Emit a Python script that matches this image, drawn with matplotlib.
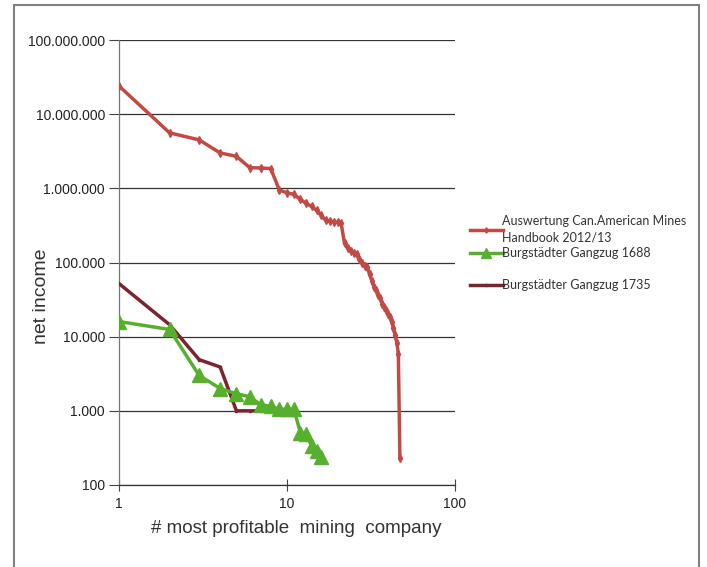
import matplotlib
matplotlib.use("Agg")
import matplotlib.pyplot as plt
from matplotlib.patches import Rectangle

# ---- data ----
rank_mines = list(range(1, 48))
income_mines = [24000000, 5600000, 4500000, 3000000, 2700000, 1900000, 1880000, 1850000,
                950000, 870000, 830000, 710000, 627000, 571000, 505000, 432000, 370000,
                358000, 355000, 348000, 337000, 181000, 155000, 145000, 136000, 132000,
                113000, 100000, 91000, 88000, 69000, 57000, 47000, 42000, 37000, 33000,
                28000, 25000, 23000, 20500, 18600, 16000, 13200, 10600, 8300, 5900, 230]

rank_1688 = list(range(1, 17))
income_1688 = [16000, 12500, 3000, 2000, 1700, 1550, 1200, 1150, 1050, 1050, 1050,
               510, 480, 340, 290, 240]

rank_1735 = list(range(1, 9))
income_1735 = [52000, 14500, 4900, 3900, 1000, 1000, 1000, 1000]

labels = ["Auswertung Can.American Mines\nHandbook 2012/13",
          "Burgstädter Gangzug 1688",
          "Burgstädter Gangzug 1735"]
y_ticks = [100, 1000, 10000, 100000, 1000000, 10000000, 100000000]
y_ticklabels = ["100", "1.000", "10.000", "100.000", "1.000.000", "10.000.000", "100.000.000"]
x_ticks = [1, 10, 100]
x_ticklabels = ["1", "10", "100"]

c_red = "#c24a45"
c_green = "#56b02e"
c_maroon = "#7a2430"

W, H = 707, 567
fig = plt.figure(figsize=(W / 100, H / 100), dpi=100)
ax = fig.add_axes([119 / W, 1 - 485 / H, (455 - 119) / W, (485 - 40) / H])

l1, = ax.plot(rank_mines, income_mines, color=c_red, lw=2.5, marker="d", ms=4,
              mec=c_red, mfc=c_red, zorder=3)
l3, = ax.plot(rank_1735, income_1735, color=c_maroon, lw=2.5, marker="s", ms=2,
              zorder=3)
l2, = ax.plot(rank_1688, income_1688, color=c_green, lw=2.5, marker="^", ms=9.5,
              mec=c_green, mfc=c_green, zorder=4)

ax.set_xscale("log")
ax.set_yscale("log")
ax.set_xlim(1, 100)
ax.set_ylim(100, 100000000)
ax.set_yticks(y_ticks)
ax.set_yticklabels(y_ticklabels, fontfamily="Liberation Sans", fontsize=10, color="#222222")
ax.set_xticks(x_ticks)
ax.set_xticklabels(x_ticklabels, fontfamily="Liberation Sans", fontsize=10, color="#222222")
ax.minorticks_off()
ax.tick_params(axis="y", direction="out", length=7, width=0.8, color="#444444", pad=3)
ax.tick_params(axis="x", direction="inout", length=8, width=0.8, color="#444444", pad=5)

ax.grid(True, axis="y", color="#333333", lw=0.9)
ax.set_axisbelow(True)
for s in ("top", "right"):
    ax.spines[s].set_visible(False)
ax.spines["left"].set_color("#777777")
ax.spines["left"].set_linewidth(0.9)
ax.spines["bottom"].set_color("#333333")
ax.spines["bottom"].set_linewidth(0.9)

ax.set_ylabel("net income", fontfamily="Liberation Sans", fontsize=14, color="#333333")
ax.yaxis.set_label_coords(-0.205, 0.425)
ax.set_xlabel("# most profitable  mining  company", fontfamily="Liberation Sans",
              fontsize=13.5, color="#333333")
ax.xaxis.set_label_coords(0.527, -0.078)

# legends (one per entry, placed like the reference)
leg_font = dict(family="Lato", size=9)
positions = [(470 / W, 1 - 229 / H), (470 / W, 1 - 253 / H), (470 / W, 1 - 285 / H)]
for handle, lab, pos in zip([l1, l2, l3], labels, positions):
    lg = fig.legend([handle], [lab], loc="center left", bbox_to_anchor=pos,
                    frameon=False, prop=leg_font, handlelength=2.6, handletextpad=0.0,
                    borderpad=0, borderaxespad=0, markerscale=0.7)
    for t in lg.get_texts():
        t.set_color("#333333")
        t.set_linespacing(1.45)

# figure frame
fig.add_artist(Rectangle((14 / W, -0.01), (699 - 14) / W, 1 - 5 / H + 0.01,
                         transform=fig.transFigure, fill=False,
                         edgecolor="#808080", lw=1.5))

fig.savefig("out.png", dpi=100)
